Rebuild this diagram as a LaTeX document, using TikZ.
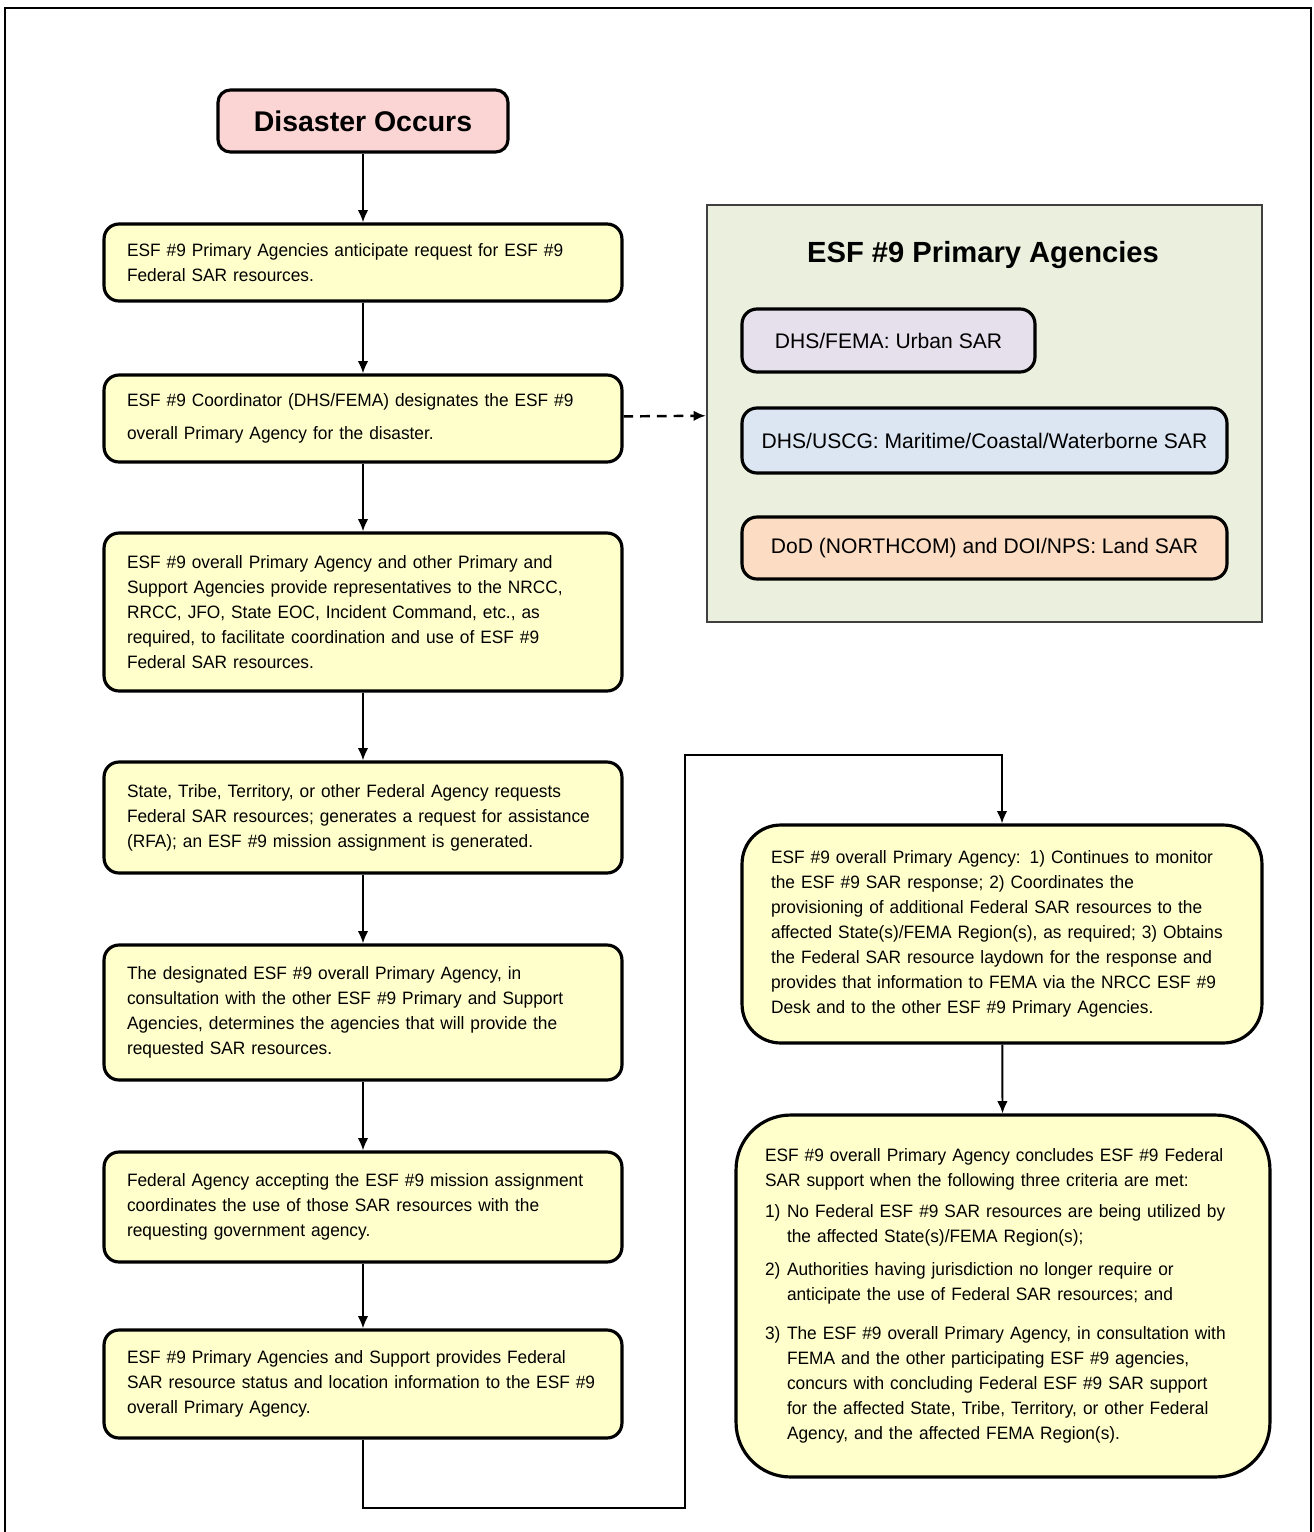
\documentclass[tikz,border=0pt]{standalone}
\usepackage{fontspec}
\setmainfont{Liberation Sans}
\newfontfamily\boxfont[FakeStretch=0.965]{Liberation Sans}
\usetikzlibrary{arrows.meta}

\definecolor{boxyellow}{HTML}{FFFFCC}
\definecolor{boxpink}{HTML}{FBD4D4}
\definecolor{panelgreen}{HTML}{EAF0DD}
\definecolor{agencylilac}{HTML}{E5E0EC}
\definecolor{agencyblue}{HTML}{DCE6F2}
\definecolor{agencypeach}{HTML}{FCDCC3}

\newcommand{\critnum}[1]{\makebox[12.5pt][l]{#1}}

\tikzset{
	stepbox/.style={draw, line width=1.8pt, rounded corners=8.5pt, fill=boxyellow, align=left,
		font=\boxfont\fontsize{10.2}{14.2}\selectfont, inner xsep=0.46cm, inner ysep=0pt, text width=9.44cm},
	bigbox/.style={stepbox, rounded corners=22pt, inner xsep=0.58cm, text width=9.24cm},
	agencybox/.style={draw, line width=1.8pt, rounded corners=8.5pt, font=\fontsize{12}{14}\selectfont,
		inner sep=0pt, minimum width=9.7cm},
	flow/.style={line width=1.1pt, -{Latex[length=7pt,width=6pt]}}
}

\begin{document}
\begin{tikzpicture}[x=0.02cm, y=-0.02cm]
		\useasboundingbox (0,0) rectangle (1313,1532);
		\draw[line width=1.2pt] (5,1532) -- (5,8) -- (1311,8) -- (1311,1532);

		\node[draw, line width=1.8pt, rounded corners=7pt, fill=boxpink, minimum width=5.8cm, minimum height=1.24cm,
			font=\fontsize{16.2}{18}\selectfont\bfseries] (disaster) at (363,121) {Disaster Occurs};

		\node[stepbox, minimum height=1.54cm] (anticipate) at (363,262.5) {ESF \#9 Primary Agencies anticipate request for ESF \#9\\ Federal SAR resources.};
		\node[stepbox, minimum height=1.74cm, font=\boxfont\fontsize{10.2}{18.7}\selectfont] (designate) at (363,418.5) {ESF \#9 Coordinator (DHS/FEMA) designates the ESF \#9\\ overall Primary Agency for the disaster.};
		\node[stepbox, minimum height=3.16cm] (represent) at (363,612) {ESF \#9 overall Primary Agency and other Primary and\\ Support Agencies provide representatives to the NRCC,\\ RRCC, JFO, State EOC, Incident Command, etc., as\\ required, to facilitate coordination and use of ESF \#9\\ Federal SAR resources.};
		\node[stepbox, minimum height=2.22cm] (request) at (363,817.5) {State, Tribe, Territory, or other Federal Agency requests\\ Federal SAR resources; generates a request for assistance\\ (RFA); an ESF \#9 mission assignment is generated.};
		\node[stepbox, minimum height=2.7cm] (determine) at (363,1012.5) {The designated ESF \#9 overall Primary Agency, in\\ consultation with the other ESF \#9 Primary and Support\\ Agencies, determines the agencies that will provide the\\ requested SAR resources.};
		\node[stepbox, minimum height=2.2cm] (accept) at (363,1207) {Federal Agency accepting the ESF \#9 mission assignment\\ coordinates the use of those SAR resources with the\\ requesting government agency.};
		\node[stepbox, minimum height=2.16cm] (status) at (363,1384) {ESF \#9 Primary Agencies and Support provides Federal\\ SAR resource status and location information to the ESF \#9\\ overall Primary Agency.};

		\node[draw=black!75, line width=1.3pt, fill=panelgreen, minimum width=11.1cm, minimum height=8.34cm] (panel) at (984.5,413.5) {};
		\node[font=\fontsize{16.6}{18}\selectfont\bfseries] (paneltitle) at (983,255) {ESF \#9 Primary Agencies};
		\node[agencybox, fill=agencylilac, minimum width=5.86cm, minimum height=1.26cm] (fema) at (888.5,340.5) {DHS/FEMA: Urban SAR};
		\node[agencybox, fill=agencyblue, minimum height=1.3cm] (uscg) at (984.5,440.5) {DHS/USCG: Maritime/Coastal/Waterborne SAR};
		\node[agencybox, fill=agencypeach, minimum height=1.24cm] (dod) at (984.5,548) {DoD (NORTHCOM) and DOI/NPS: Land SAR};

		\node[bigbox, minimum width=10.4cm, minimum height=4.36cm] (monitor) at (1002,934) {ESF \#9 overall Primary Agency: 1) Continues to monitor\\ the ESF \#9 SAR response; 2) Coordinates the\\ provisioning of additional Federal SAR resources to the\\ affected State(s)/FEMA Region(s), as required; 3) Obtains\\ the Federal SAR resource laydown for the response and\\ provides that information to FEMA via the NRCC ESF \#9\\ Desk and to the other ESF \#9 Primary Agencies.};
		\node[bigbox, rounded corners=31pt, inner xsep=0.58cm, text width=9.52cm, minimum height=7.24cm] (conclude) at (1003,1296) {ESF \#9 overall Primary Agency concludes ESF \#9 Federal\\ SAR support when the following three criteria are met:\\[3.4pt]
			\critnum{1)}No Federal ESF \#9 SAR resources are being utilized by\\ \hspace*{12.5pt}the affected State(s)/FEMA Region(s);\\[4.5pt]
			\critnum{2)}Authorities having jurisdiction no longer require or\\ \hspace*{12.5pt}anticipate the use of Federal SAR resources; and\\[8pt]
			\critnum{3)}The ESF \#9 overall Primary Agency, in consultation with\\ \hspace*{12.5pt}FEMA and the other participating ESF \#9 agencies,\\ \hspace*{12.5pt}concurs with concluding Federal ESF \#9 SAR support\\ \hspace*{12.5pt}for the affected State, Tribe, Territory, or other Federal\\ \hspace*{12.5pt}Agency, and the affected FEMA Region(s).};

		\draw[flow] (disaster) -- (anticipate);
		\draw[flow] (anticipate) -- (designate);
		\draw[flow] (designate) -- (represent);
		\draw[flow] (represent) -- (request);
		\draw[flow] (request) -- (determine);
		\draw[flow] (determine) -- (accept);
		\draw[flow] (accept) -- (status);
		\draw[flow, dashed, dash pattern=on 5.5pt off 4pt, line width=1.4pt] (designate) -- (panel);

		\coordinate (low) at (685,1508);
		\coordinate (high) at (685,755);
		\draw[flow] (status.south) |- (low) -- (high) -| (monitor.north);
		\draw[flow] (monitor) -- (conclude);
	\end{tikzpicture}
\end{document}
